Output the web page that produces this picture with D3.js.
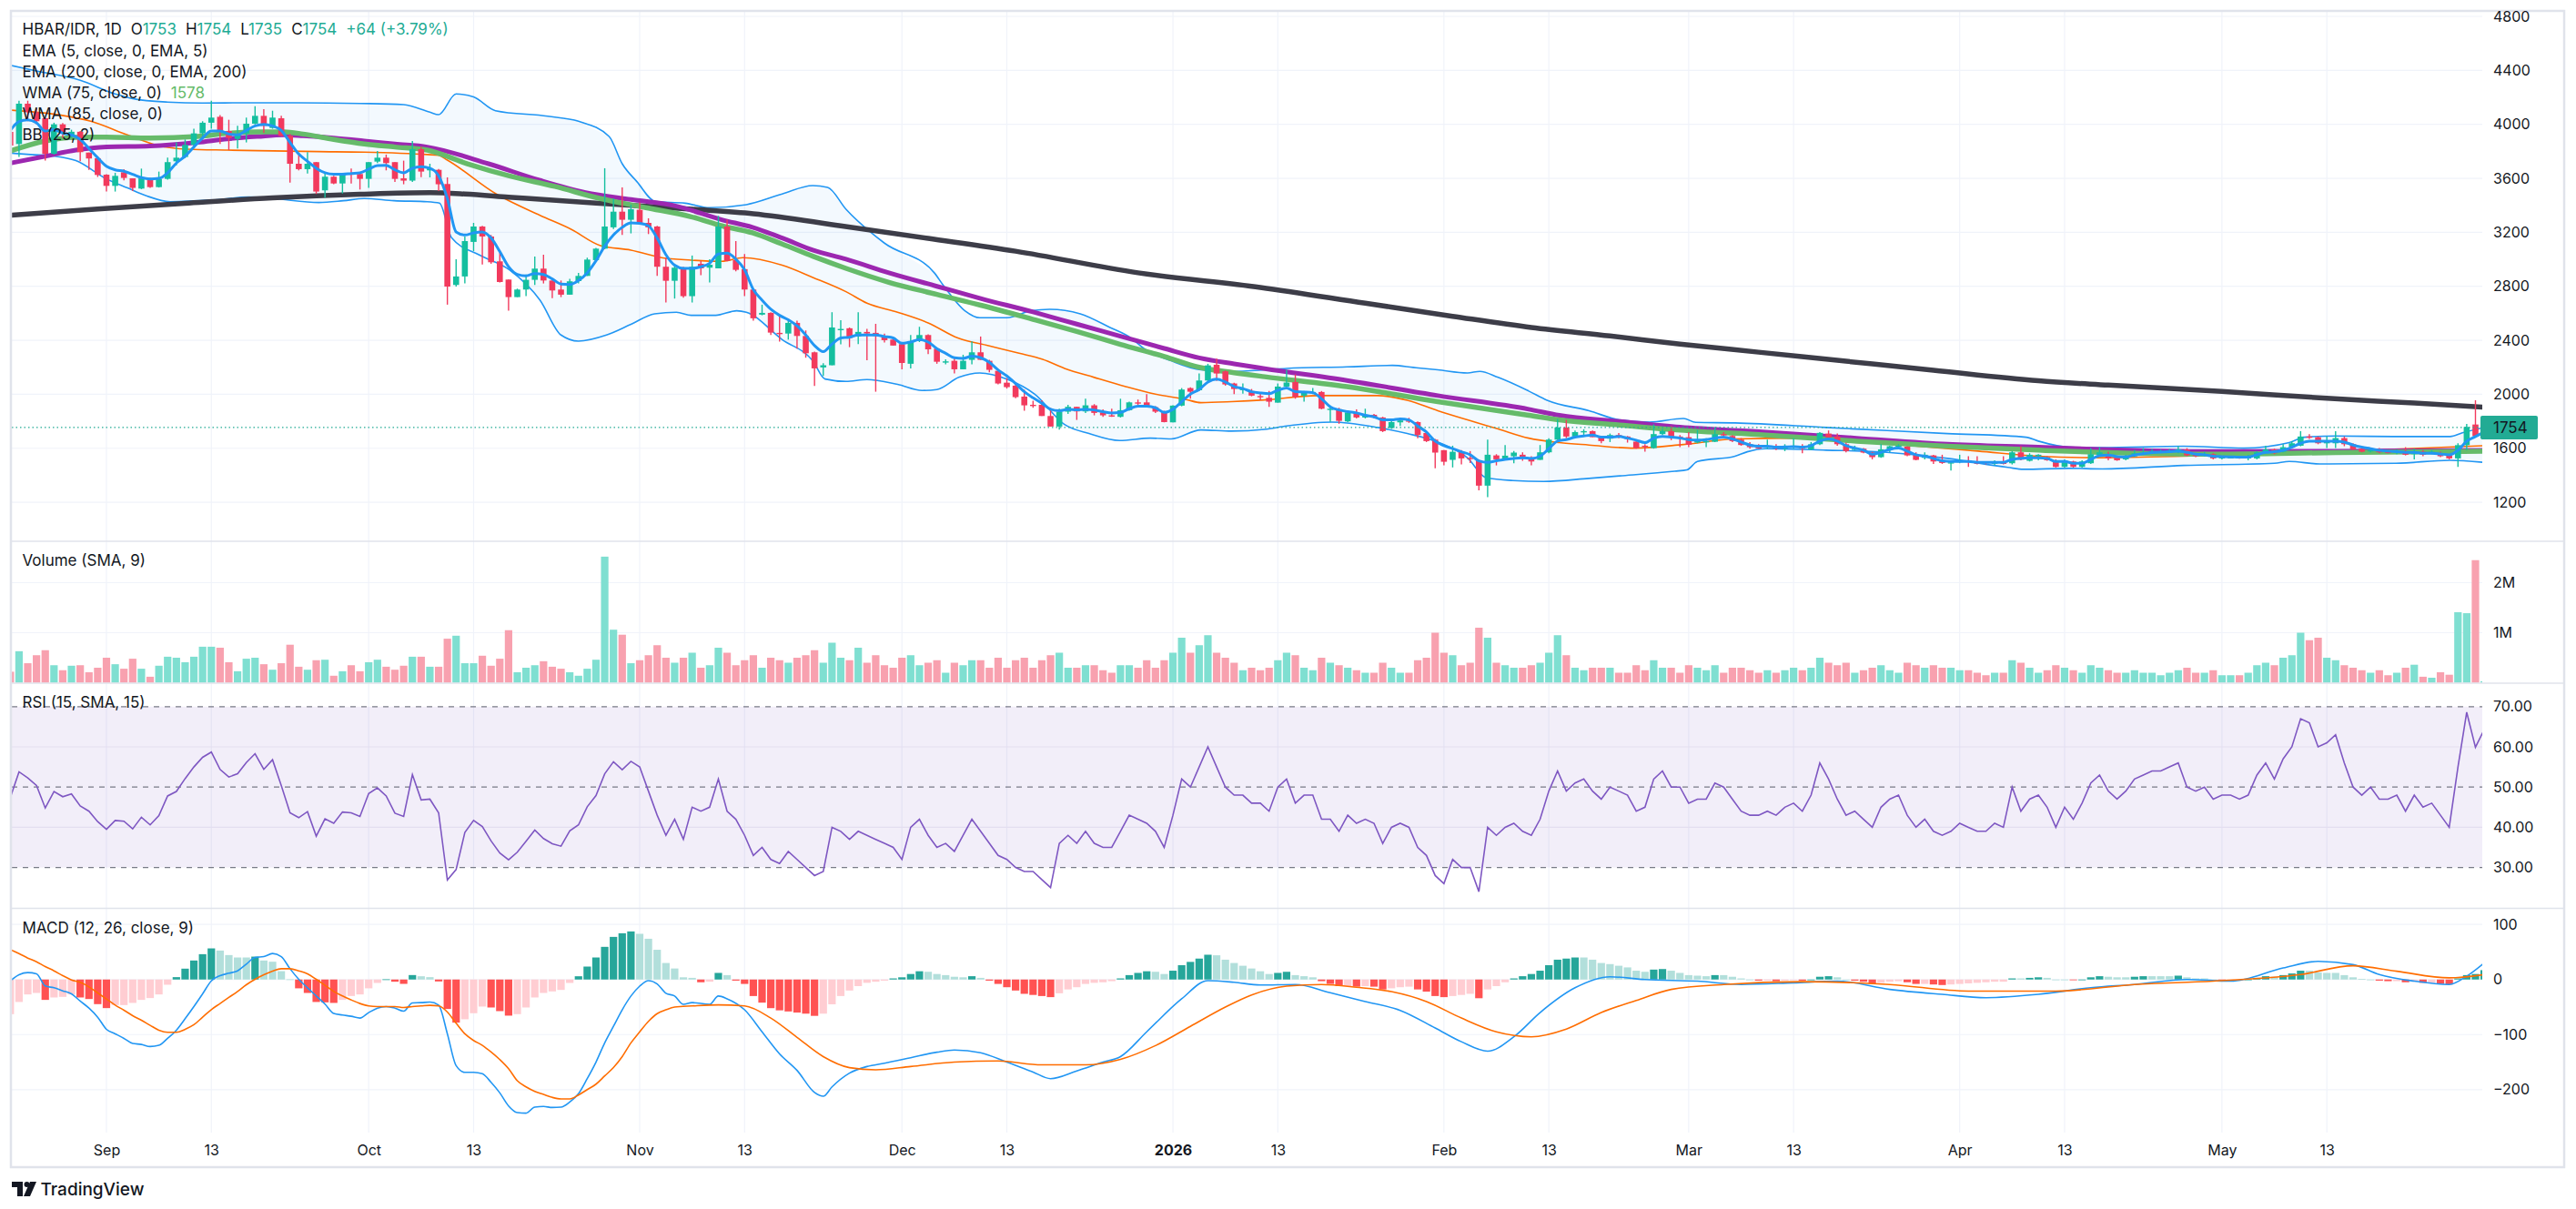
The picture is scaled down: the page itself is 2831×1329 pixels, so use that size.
<!DOCTYPE html>
<html><head><meta charset="utf-8">
<script src="https://cdn.jsdelivr.net/npm/d3@7"></script>
<style>
html,body{margin:0;padding:0;background:#fff;}
svg{display:block;font-family:Inter,"Noto Sans",sans-serif;}
</style></head><body>
<svg id="chart" width="2831" height="1329"></svg>
<script>
// ---------------- DATA ----------------
const startDate = "2025-08-21"; // first daily bar; last bar 2026-05-31
const open = [3944,3854,4153,4090,4045,3782,4000,3920,3945,3791,3749,3627,3544,3645,3600,3524,3600,3535,3596,3726,3758,3848,3933,4012,4056,3951,3892,3933,4005,4063,3973,4045,3915,3708,3668,3720,3511,3612,3562,3636,3632,3596,3724,3753,3720,3600,3583,3816,3659,3663,3558,2810,2873,3129,3243,3169,2985,2850,2720,2776,2848,2931,2843,2776,2738,2839,2877,2994,3079,3237,3353,3293,3367,3270,3243,2945,2841,2938,2727,2967,2938,2933,3243,2994,2927,2776,2590,2603,2455,2450,2529,2432,2311,2199,2215,2477,2489,2428,2462,2455,2432,2405,2372,2226,2394,2439,2338,2239,2248,2185,2255,2311,2248,2174,2086,2064,1983,1922,1922,1839,1761,1871,1907,1873,1918,1866,1844,1833,1882,1940,1940,1904,1871,1792,1916,2046,2030,2102,2219,2170,2080,2035,2024,1987,1974,1938,2057,2091,1990,2012,2017,1889,1889,1799,1862,1828,1848,1828,1750,1792,1806,1794,1713,1664,1586,1514,1574,1529,1511,1323,1547,1518,1541,1552,1529,1514,1570,1664,1754,1687,1720,1727,1682,1671,1698,1687,1649,1619,1601,1705,1727,1687,1682,1642,1648,1648,1705,1691,1664,1630,1608,1604,1608,1597,1608,1615,1592,1630,1709,1687,1630,1592,1597,1570,1534,1592,1615,1612,1552,1529,1547,1511,1489,1496,1511,1502,1498,1484,1502,1489,1570,1507,1547,1534,1511,1462,1502,1462,1489,1552,1556,1534,1518,1541,1563,1570,1574,1579,1574,1590,1556,1547,1556,1525,1532,1534,1525,1525,1570,1592,1574,1608,1619,1687,1682,1637,1637,1675,1630,1597,1579,1592,1574,1574,1579,1556,1574,1570,1563,1547,1525,1623,1776,1753];
const high = [3960,4175,4175,4120,4050,4012,4010,3960,3950,3791,3749,3630,3641,3668,3600,3672,3605,3650,3753,3866,3888,3967,4023,4175,4068,4034,3989,4050,4135,4113,4101,4063,3928,3776,3794,3720,3636,3618,3641,3672,3636,3720,3803,3776,3720,3731,3877,3832,3708,3670,3607,3001,3169,3270,3248,3180,3068,2850,2783,2888,3021,3034,2843,2843,2855,2900,3012,3084,3675,3450,3533,3405,3421,3304,3248,3012,2967,2945,3028,2989,3001,3322,3293,3135,3039,2783,2664,2608,2585,2551,2545,2473,2316,2230,2608,2549,2495,2608,2484,2522,2450,2417,2372,2439,2500,2444,2338,2259,2271,2293,2392,2428,2255,2181,2120,2080,2035,1952,1956,1900,1893,1922,1907,1967,1927,1889,1893,1967,1945,1961,2001,1911,1878,1918,2046,2051,2154,2226,2264,2176,2086,2080,2039,2012,2024,2080,2181,2147,2024,2046,2024,1916,1900,1878,1889,1893,1855,1833,1821,1821,1826,1799,1720,1669,1586,1619,1586,1579,1518,1664,1556,1624,1579,1570,1541,1624,1675,1815,1810,1732,1741,1732,1691,1709,1713,1691,1653,1631,1777,1743,1765,1698,1720,1736,1675,1754,1720,1698,1675,1646,1630,1664,1630,1630,1675,1630,1646,1720,1732,1709,1642,1619,1601,1574,1630,1619,1630,1615,1570,1570,1552,1552,1511,1552,1541,1541,1502,1511,1541,1579,1615,1563,1556,1541,1518,1518,1507,1511,1601,1608,1574,1547,1552,1586,1601,1595,1590,1595,1615,1601,1563,1574,1563,1541,1541,1541,1552,1579,1619,1597,1630,1653,1727,1705,1687,1687,1727,1687,1637,1608,1597,1601,1580,1592,1608,1597,1586,1586,1574,1556,1637,1781,1956,1754];
const low = [3830,3758,4023,4000,3731,3776,3900,3900,3726,3663,3610,3502,3502,3585,3506,3520,3530,3532,3590,3697,3750,3840,3888,3967,3854,3809,3821,3866,4000,3937,3967,3910,3569,3659,3636,3484,3457,3556,3488,3562,3517,3529,3713,3659,3574,3556,3574,3609,3607,3506,2664,2798,2821,3061,2962,2967,2828,2619,2720,2727,2810,2821,2713,2720,2738,2821,2877,2985,3075,3225,3180,3192,3270,3187,2877,2680,2709,2715,2680,2882,2828,2933,2985,2911,2727,2545,2585,2439,2390,2405,2338,2271,2062,2136,2215,2370,2349,2372,2253,2019,2383,2361,2185,2192,2387,2298,2226,2221,2154,2185,2221,2255,2163,2073,2042,1970,1878,1900,1839,1761,1738,1855,1810,1862,1844,1833,1833,1828,1878,1911,1907,1862,1792,1792,1911,1967,2024,2098,2098,2064,2001,2005,1985,1956,1907,1938,2057,1967,1945,2001,1889,1795,1781,1794,1821,1821,1821,1720,1743,1765,1788,1675,1646,1451,1473,1458,1480,1491,1289,1238,1473,1518,1489,1507,1473,1514,1563,1660,1675,1682,1687,1682,1637,1646,1675,1642,1597,1574,1597,1698,1660,1608,1608,1637,1608,1646,1675,1646,1619,1597,1597,1597,1586,1579,1597,1563,1586,1624,1669,1619,1570,1586,1563,1518,1529,1570,1601,1541,1511,1518,1484,1484,1435,1489,1462,1480,1480,1473,1480,1480,1511,1502,1511,1507,1457,1457,1457,1457,1484,1541,1511,1507,1511,1534,1552,1563,1565,1570,1563,1541,1534,1541,1518,1518,1525,1522,1511,1518,1563,1556,1570,1601,1615,1669,1630,1601,1601,1615,1586,1570,1570,1563,1562,1556,1547,1518,1541,1556,1534,1518,1462,1585,1682,1735];
const close = [3843,4153,4090,4023,3782,4000,3940,3945,3794,3747,3625,3544,3618,3603,3529,3600,3535,3596,3720,3753,3848,3933,4012,4050,3944,3899,3922,4005,4063,3989,4050,3915,3708,3668,3708,3502,3612,3562,3632,3627,3596,3720,3753,3713,3596,3583,3816,3650,3675,3556,2798,2873,3135,3243,3169,2978,2832,2720,2776,2848,2931,2843,2769,2738,2837,2877,2998,3079,3243,3353,3293,3371,3270,3237,2945,2841,2938,2727,2945,2933,2960,3243,2989,2922,2776,2563,2603,2457,2450,2529,2432,2304,2192,2215,2495,2484,2417,2462,2450,2432,2401,2361,2232,2394,2439,2333,2241,2244,2185,2248,2311,2255,2181,2080,2053,1979,1918,1918,1839,1761,1871,1907,1873,1918,1862,1844,1835,1882,1940,1934,1907,1871,1794,1916,2035,2019,2102,2214,2154,2073,2039,2040,1990,1983,1945,2057,2087,1979,2017,2017,1893,1893,1803,1866,1828,1848,1828,1727,1794,1806,1799,1698,1653,1568,1500,1574,1525,1523,1323,1552,1518,1545,1568,1523,1502,1570,1664,1754,1687,1720,1727,1682,1653,1698,1691,1669,1601,1615,1705,1727,1682,1682,1626,1653,1653,1705,1698,1653,1624,1608,1604,1615,1597,1615,1619,1597,1630,1714,1680,1630,1579,1597,1568,1534,1592,1615,1619,1547,1514,1552,1502,1491,1496,1511,1496,1484,1493,1502,1484,1570,1516,1552,1552,1511,1462,1511,1462,1502,1556,1570,1525,1511,1541,1563,1567,1579,1579,1583,1592,1547,1541,1556,1525,1534,1534,1529,1534,1570,1592,1563,1608,1637,1687,1682,1637,1646,1675,1630,1592,1574,1586,1570,1570,1579,1552,1574,1552,1574,1541,1525,1623,1758,1690,1754];
const volumeMillions = [.22,.63,.39,.55,.65,.35,.25,.34,.35,.21,.30,.50,.37,.28,.48,.28,.12,.34,.52,.50,.41,.52,.72,.72,.70,.41,.23,.48,.50,.37,.26,.39,.76,.32,.26,.45,.46,.14,.23,.35,.23,.41,.46,.32,.26,.34,.52,.52,.32,.32,.88,.94,.39,.39,.54,.34,.48,1.05,.21,.30,.35,.43,.32,.28,.21,.14,.28,.46,2.52,1.06,.96,.39,.45,.55,.75,.5,.4,.5,.6,.3,.35,.7,.6,.35,.45,.55,.3,.5,.45,.4,.5,.55,.65,.4,.8,.5,.45,.7,.4,.55,.35,.3,.5,.55,.35,.4,.45,.2,.4,.35,.45,.45,.3,.5,.3,.45,.5,.3,.45,.55,.6,.3,.3,.35,.35,.25,.2,.35,.35,.3,.45,.3,.45,.6,.9,.6,.75,.95,.6,.5,.4,.25,.3,.25,.3,.45,.6,.55,.3,.25,.5,.4,.35,.3,.25,.2,.2,.4,.3,.2,.2,.45,.5,1.0,.6,.55,.35,.4,1.1,.9,.4,.35,.3,.3,.35,.4,.6,.95,.55,.3,.25,.3,.3,.3,.2,.2,.35,.25,.45,.3,.3,.2,.35,.3,.25,.35,.2,.3,.3,.25,.2,.25,.2,.25,.3,.25,.3,.5,.4,.35,.4,.2,.25,.3,.35,.25,.2,.4,.35,.3,.35,.3,.3,.25,.25,.2,.15,.2,.2,.45,.4,.3,.2,.25,.35,.3,.25,.2,.35,.3,.25,.2,.2,.25,.2,.2,.15,.2,.25,.3,.2,.2,.25,.15,.15,.15,.2,.35,.4,.35,.5,.55,1.0,.85,.9,.5,.45,.35,.3,.25,.2,.25,.15,.2,.3,.36,.12,.10,.21,.16,1.41,1.39,2.45,.03];
const ema5 = [3955,4020,4034,4012,3950,3960,3935,3922,3888,3821,3753,3690,3663,3652,3630,3605,3596,3600,3641,3713,3764,3832,3899,3951,3951,3928,3922,3955,3989,4000,3989,3955,3866,3780,3726,3675,3641,3630,3630,3636,3641,3668,3695,3697,3663,3641,3675,3686,3675,3618,3450,3203,3180,3196,3203,3158,3057,2945,2888,2877,2895,2888,2855,2817,2814,2843,2900,2989,3097,3180,3237,3270,3266,3248,3158,3034,2956,2933,2933,2945,2971,3039,3046,3001,2922,2776,2697,2630,2585,2552,2507,2439,2361,2316,2372,2417,2423,2439,2439,2439,2428,2417,2378,2387,2405,2387,2338,2304,2271,2266,2282,2271,2237,2181,2136,2080,2019,1974,1934,1889,1878,1889,1884,1889,1884,1871,1862,1866,1893,1911,1911,1900,1866,1889,1945,2001,2035,2091,2113,2091,2057,2042,2019,2010,2005,2030,2046,2019,2017,2012,1967,1907,1884,1871,1862,1844,1833,1810,1810,1817,1810,1765,1720,1653,1619,1597,1574,1552,1507,1496,1507,1518,1525,1529,1525,1541,1597,1653,1664,1682,1691,1698,1682,1682,1687,1675,1660,1642,1675,1687,1682,1675,1664,1660,1664,1675,1682,1669,1646,1624,1615,1615,1608,1610,1612,1608,1619,1653,1669,1653,1619,1601,1586,1556,1570,1592,1601,1579,1552,1541,1525,1507,1502,1502,1502,1496,1496,1496,1496,1518,1525,1529,1529,1525,1502,1502,1489,1489,1518,1545,1550,1538,1536,1550,1560,1568,1572,1574,1578,1570,1556,1552,1541,1538,1536,1534,1534,1552,1570,1574,1585,1608,1637,1653,1653,1653,1653,1646,1624,1608,1597,1585,1579,1574,1570,1570,1563,1563,1558,1552,1585,1653,1687,1720];
// sampled smooth overlays: [day offset from start, value]
const ema200 = [[0,3326],[10,3372],[20,3415],[30,3455],[40,3482],[48,3494],[52,3484],[57,3461],[67,3416],[78,3371],[85,3338],[95,3248],[105,3155],[115,3060],[129,2900],[143,2792],[155,2675],[165,2578],[174,2495],[183,2432],[191,2372],[200,2312],[210,2245],[220,2178],[232,2100],[240,2068],[253,2022],[265,1970],[275,1935],[283,1905]];
const wma75 = [[0,3803],[4,3877],[7.5,3904],[11,3906],[16,3899],[21.4,3910],[24.8,3933],[28.3,3944],[31.3,3944],[33.5,3928],[37,3888],[40.5,3854],[44,3832],[47.7,3809],[52.3,3708],[57.1,3618],[62.3,3540],[67.5,3450],[72.7,3383],[77.9,3315],[81.4,3248],[84.9,3196],[88.3,3113],[91.8,3023],[95.6,2933],[100.5,2830],[106,2740],[111,2660],[117,2555],[122,2465],[127,2370],[132,2280],[136,2200],[140,2160],[143.5,2130],[152.9,2057],[163.3,1945],[173.7,1844],[177.2,1810],[184.1,1772],[191,1734],[200.8,1698],[211.2,1653],[221.6,1615],[232,1586],[239,1570],[252,1556],[266,1568],[283,1578]];
const wma85 = [[0,3713],[4,3764],[7.5,3809],[11,3832],[16,3839],[21.4,3866],[24.8,3892],[28.3,3910],[31.3,3922],[33.5,3915],[37,3899],[40.5,3877],[44,3854],[47.7,3832],[54.7,3708],[60.6,3585],[65.8,3495],[71,3443],[76.2,3394],[81.4,3293],[84.9,3237],[88.3,3158],[91.8,3068],[95.6,3001],[100.5,2900],[106,2800],[111,2710],[117,2610],[122,2520],[127,2430],[132,2340],[136,2270],[140,2225],[143.5,2190],[152.9,2102],[163.3,1990],[173.7,1889],[177.2,1844],[184.1,1799],[191,1756],[200.8,1720],[211.2,1675],[221.6,1630],[232,1608],[239,1592],[252,1576],[266,1578],[283,1585]];
const bbUpper = [[0,4438],[3,4395],[8,4326],[12,4225],[14,4191],[18,4165],[22,4158],[27,4160],[33,4160],[40,4155],[45,4146],[48,4090],[49,4072],[51,4225],[53,4203],[55.5,4101],[61.5,4060],[65,4023],[68.5,3910],[70,3708],[71.7,3574],[73.8,3428],[77.2,3416],[80,3383],[84.2,3405],[88.3,3484],[91.8,3546],[93.5,3533],[95.6,3371],[100,3120],[105.7,2900],[106.7,2810],[109.2,2619],[110.9,2567],[114,2567],[116.8,2619],[118.9,2630],[122.4,2596],[125.8,2495],[128.2,2417],[129.7,2338],[132.8,2248],[136.2,2181],[139.7,2170],[143.5,2181],[146,2192],[152.9,2203],[158.1,2214],[160.5,2199],[163.3,2181],[166.7,2158],[168.1,2170],[170.2,2125],[173.7,2024],[175.8,1956],[180.6,1878],[184.1,1810],[187.5,1794],[191.4,1821],[192.8,1792],[197.3,1788],[207.7,1754],[214.7,1731],[221.6,1709],[230.6,1682],[232,1653],[235.5,1608],[239.3,1604],[248.6,1615],[255.5,1601],[260.7,1642],[262.4,1682],[266,1691],[272.9,1687],[279.1,1687],[280.5,1714],[283,1755]];
const bbBasis = [[0,4106],[5.8,4068],[9.2,4023],[13.4,3922],[16.9,3843],[20.3,3816],[24.8,3809],[30.1,3803],[35.2,3798],[40.5,3794],[47.7,3776],[49,3770],[50,3735],[55.6,3484],[60.6,3326],[64.1,3225],[67.5,3102],[71,3068],[74.5,3012],[77.9,2994],[81.4,2985],[83.8,3012],[88.3,2956],[91.8,2866],[95.6,2760],[98,2675],[101.5,2608],[105,2529],[108.4,2417],[111.9,2360],[115.4,2304],[118.1,2259],[120.6,2192],[124,2125],[127.6,2057],[131,2001],[134.5,1961],[136.2,1938],[139.7,1945],[143.5,1958],[149.5,1990],[156.4,1990],[159.8,1956],[163.3,1878],[166.7,1810],[170.2,1743],[173.7,1675],[177.2,1642],[180.6,1624],[185.8,1601],[191.4,1628],[197.3,1669],[204.3,1675],[211.2,1660],[218.2,1615],[225.1,1579],[232,1541],[239,1530],[248.6,1541],[259,1563],[269.4,1585],[283,1619]];
const bbLower = [[0,3787],[2.3,3776],[5.1,3764],[7.5,3731],[11,3596],[13.4,3529],[15.5,3472],[18.3,3427],[23.1,3439],[27.3,3461],[30.1,3450],[35.3,3421],[38.1,3434],[40.5,3450],[43.9,3434],[47.7,3427],[49.1,3416],[50.5,3158],[53.6,3034],[57.1,2922],[60.6,2697],[63,2439],[65,2394],[68.2,2439],[71,2518],[73.7,2596],[76.2,2608],[77.9,2585],[80.7,2585],[83.1,2619],[84.2,2608],[88.3,2405],[91.8,2248],[93.2,2113],[95.6,2095],[98,2109],[101.5,2073],[104.3,2028],[106,2035],[108.5,2125],[110.9,2158],[114,2113],[117.2,2001],[120.6,1776],[123.4,1709],[126.9,1657],[130.4,1675],[132.8,1669],[136.2,1736],[139.7,1727],[143.5,1740],[146,1765],[151.2,1794],[156.4,1754],[159.8,1709],[163.3,1646],[166.7,1529],[168.8,1383],[171.9,1361],[175.4,1354],[180.6,1377],[184.1,1395],[190.4,1430],[191.8,1440],[193,1502],[197.3,1541],[198.7,1574],[200.8,1597],[207.7,1586],[214.7,1570],[221.6,1525],[228.5,1458],[230.3,1444],[235.5,1451],[239.3,1447],[248.6,1473],[259,1489],[260.7,1502],[264.2,1484],[272.9,1489],[279.1,1511],[283,1495]];
const rsi = [47.4,53.8,52.3,50.4,44.8,48.9,47.6,48.3,45.3,44.0,41.4,39.5,41.7,41.5,39.6,42.5,40.6,42.9,47.8,48.9,52.1,55.0,57.4,58.7,54.4,52.5,53.3,56.1,58.3,54.4,56.8,50.4,43.6,42.4,43.9,37.8,42.1,41.0,43.8,43.6,42.7,48.4,49.8,47.8,43.5,42.7,53.1,46.8,47.0,43.6,26.9,29.5,38.7,41.7,40.2,36.6,33.6,31.9,33.8,36.5,39.3,37.2,35.9,35.3,39.1,40.6,45.1,47.9,53.3,56.3,54.3,56.4,55,49,43,38,42,37,45,44,45,52,44,42,38,33,35,32,31,34,32,30,28,29,40,39,37,39,38,37,36,35,32,40,42,38,35,36,34,38,42,39,36,33,32,30,29,29,27,25,36,38,36,39,36,35,35,39,43,42,41,39,35,43,52,50,55,60,55,50,48,48,46,46,44,50,52,46,48,48,42,42,39,43,41,42,41,36,40,41,40,35,33,28,26,32,30,30,24,40,38,40,41,39,38,42,49,54,49,51,52,49,47,50,49,48,44,45,52,54,50,50,46,47,47,51,50,47,44,43,43,44,43,45,46,44,48,56,52,47,43,44,42,40,45,47,48,43,40,42,39,38,39,41,40,39,39,41,40,50,44,47,48,45,40,45,42,46,51,53,49,47,49,52,53,54,54,55,56,50,49,50,47,48,48,47,48,53,56,52,57,60,67,66,60,61,63,56,50,48,50,47,47,48,44,48,45,46,43,40,55,68.6,59.9,64.3];
const macdLine = [[0,-2.4],[1,8.6],[2,12.5],[3,10.3],[4,-11.7],[5,-15],[6,-20.5],[7,-26],[8,-39.2],[9,-51.9],[10,-68.4],[11,-90.4],[12,-98.6],[13,-106.9],[14,-116.2],[15,-117.9],[16,-121.7],[17,-119.5],[18,-106.9],[19,-92],[20,-71.1],[21,-49.1],[22,-26],[23,-2.4],[24,7],[25,11.4],[26,15.8],[27,27.9],[28,40],[29,41.6],[30,47.2],[31,41.6],[32,19.6],[33,0.4],[34,-15],[35,-29.9],[36,-44.7],[37,-61.7],[38,-64.5],[39,-66.7],[40,-70],[41,-60.1],[42,-51.9],[43,-49.1],[44,-51.9],[45,-57.4],[46,-42.5],[47,-42],[48,-40.9],[49,-46.4],[50,-98.6],[51,-156.4],[52,-168.5],[53,-168.5],[54,-171.2],[55,-186.6],[56,-205.9],[57,-229.5],[58,-241.6],[59,-242.7],[60,-231.7],[61,-230.6],[62,-232.3],[63,-231.7],[64,-222.4],[65,-207.5],[66,-180],[67,-150],[68,-115],[69,-85],[70,-55],[71,-30],[72,-12],[73,-2],[74,-8],[75,-25],[76,-30],[77,-45],[78,-42],[80,-45],[81,-30],[82,-35],[84,-55],[86,-95],[88,-135],[90,-165],[92,-205],[93,-212],[94,-195],[96,-170],[98,-158],[100,-152],[103,-142],[106,-132],[108,-128],[111,-133],[114,-150],[117,-168],[119,-180],[122,-166],[125,-150],[127,-140],[130,-95],[134,-35],[137,-2],[140,-5],[143,-10],[147,-9],[151,-24],[155,-40],[159,-56],[163,-88],[166,-113],[169,-130],[172,-104],[175,-60],[179,-15],[183,5],[187,0],[193,-3],[198,-9],[204,-6],[209,-3],[215,-18],[221,-27],[226,-33],[232,-27],[238,-15],[243,-9],[249,0],[254,-3],[260,21],[264,33],[268,27],[271,9],[275,-3],[279,-9],[281,6],[283,30]];
const signalLine = [[0,54.3],[1,47.2],[2,38.9],[3,32.3],[4,23.5],[5,15.8],[6,7],[7,-0.7],[8,-5.1],[9,-13.4],[10,-24.4],[11,-35.4],[12,-46.4],[13,-55.7],[14,-65.6],[15,-73.9],[16,-83.2],[17,-92],[18,-95.9],[19,-95.9],[20,-90.4],[21,-82.1],[22,-68.4],[23,-54.6],[24,-43.6],[25,-32.6],[26,-21.6],[27,-9.5],[28,0.4],[29,8.6],[30,15.3],[31,19.6],[32,19.6],[33,15.8],[34,10.3],[35,0.4],[36,-10.6],[37,-21.6],[38,-29.9],[39,-37],[40,-43.6],[41,-48],[42,-49.1],[43,-49.1],[44,-49.1],[45,-50.8],[46,-49.1],[47,-48],[48,-46.9],[49,-48],[50,-59],[51,-79.4],[52,-98.6],[53,-110.7],[54,-119.5],[55,-131.6],[56,-145.4],[57,-161.9],[58,-183.9],[59,-194.9],[60,-203.1],[61,-208.6],[62,-214.1],[63,-216.9],[64,-216.9],[65,-209.7],[66,-200],[67,-190],[68,-175],[69,-160],[70,-140],[71,-115],[72,-95],[73,-76],[74,-62],[75,-55],[76,-50],[78,-48],[81,-46],[84,-48],[87,-70],[90,-105],[93,-140],[96,-160],[99,-164],[103,-158],[108,-150],[113,-148],[118,-155],[123,-155],[127,-145],[131,-120],[135,-85],[139,-50],[142,-28],[146,-12],[150,-9],[154,-14],[158,-22],[162,-40],[166,-70],[170,-95],[174,-104],[178,-90],[182,-60],[186,-38],[190,-18],[196,-9],[205,-4],[215,-9],[224,-21],[234,-21],[243,-9],[252,-3],[262,9],[268,25],[273,15],[279,3],[283,9]];
const macdHist = [-62.9,-40.8,-27.1,-24.4,-37,-32.6,-31.5,-27.1,-32.6,-35.4,-44.7,-51.9,-46.4,-46.4,-42.5,-37,-33.7,-27.1,-9.5,4.3,19.7,34.5,46,56.5,52.6,44.4,40,40,41.6,34.5,32.3,15.2,0.4,-16,-24.4,-40.8,-41.5,-42.5,-37,-29.9,-27.1,-16,-6.2,0.4,-4,-7.9,8.1,5.9,4.3,-3.5,-53.5,-78.3,-72.2,-61.2,-49.1,-50.8,-57.4,-65.6,-62.9,-50.8,-32.6,-24.4,-21.6,-18.9,-6.2,5.9,23.5,40,59.3,77.4,84,87.3,
 83,74,54,30,20,4,3,-5,-4,12,8,-2,-8,-30,-42,-52,-56,-58,-60,-62,-66,-62,-45,-30,-20,-12,-6,-4,-2,2,4,10,15,14,10,8,5,4,6,3,-2,-8,-14,-20,-26,-28,-30,-32,-25,-18,-14,-8,-6,-5,-3,2,8,12,15,14,10,16,26,32,38,45,44,36,30,25,20,15,10,12,14,8,6,4,-3,-8,-12,-12,-13,-12,-13,-18,-16,-14,-13,-18,-22,-30,-32,-30,-28,-26,-34,-18,-12,-5,2,6,10,16,26,36,38,40,40,36,30,28,25,22,16,14,18,19,16,12,8,7,6,8,8,5,2,0,-2,-2,-3,-2,-1,-2,0,5,6,4,0,-2,-4,-8,-6,-4,-3,-5,-8,-8,-9,-10,-9,-8,-7,-6,-5,-4,-4,2,2,3,4,3,0,0,-1,0,4,6,5,4,4,5,6,6,6,6,7,4,2,2,0,-1,-1,-1,0,3,6,5,8,11,16,16,13,12,12,8,4,1,0,-2,-3,-3,-5,-4,-6,-6,-8,-9,2,8,10,17];
const priceTicks = [1200,1600,2000,2400,2800,3200,3600,4000,4400,4800];
const volumeTicks = [1e6,2e6];
const rsiTicks = [30,40,50,60,70];
const macdTicks = [-200,-100,0,100];
const timeTickDates = ["2025-09-01","2025-09-13","2025-10-01","2025-10-13","2025-11-01","2025-11-13","2025-12-01","2025-12-13","2026-01-01","2026-01-13","2026-02-01","2026-02-13","2026-03-01","2026-03-13","2026-04-01","2026-04-13","2026-05-01","2026-05-13"];
const timeTickLabels = ["Sep","13","Oct","13","Nov","13","Dec","13","2026","13","Feb","13","Mar","13","Apr","13","May","13"];
const lastBar = {o:1753,h:1754,l:1735,c:1754,chg:"+64 (+3.79%)",wma75:"1578"};

// ---------------- CHECK ----------------
const N = open.length;
[high,low,close,volumeMillions,ema5,rsi,macdHist].forEach((a,k)=>{ if(a.length!==N) throw new Error("length mismatch "+k+": "+a.length+" vs "+N); });

// ---------------- LAYOUT ----------------
const C = {up:"#14bf9f", down:"#f23a5d", volUp:"#7fdfd1", volDown:"#f8a1af", text:"#131722",
  grid:"#f0f3fa", sep:"#e0e3eb", teal:"#22ab94"};
const PL=13, PR=2728, AXR=2817, TOP=13, BOT=1282, TAX=1245;
const MAIN=[TOP,595], VOL=[595,751], RSI=[751,998.5], MACD=[998.5,TAX];
const svg = d3.select("#chart");
const DAY=86400000, T0=Date.parse(startDate+"T00:00:00Z");
const dateOf = i => new Date(T0 + i*DAY);
const x = d3.scaleUtc().domain([dateOf(0), dateOf(N-1)]).range([11.3, 2730.1]);
const xi = i => x(dateOf(i));
const yP = d3.scaleLinear().domain([1200,4800]).range([552.1,18]);
const yV = d3.scaleLinear().domain([0,2e6]).range([750.5,640.5]);
const yR = d3.scaleLinear().domain([30,70]).range([953.6,776.8]);
const yM = d3.scaleLinear().domain([-200,100]).range([1197.8,1016.2]);

svg.append("rect").attr("width",2831).attr("height",1329).attr("fill","#fff");
const defs = svg.append("defs");
function clip(id, y0, y1){ defs.append("clipPath").attr("id",id).append("rect").attr("x",PL).attr("y",y0).attr("width",PR-PL).attr("height",y1-y0); return "url(#"+id+")"; }
const cMain=clip("cm",MAIN[0],MAIN[1]), cVol=clip("cv",VOL[0],VOL[1]), cRsi=clip("cr",RSI[0],RSI[1]), cMacd=clip("cmd",MACD[0],MACD[1]);

// grid
const tDates = timeTickDates.map(s=>new Date(s+"T00:00:00Z"));
const grid = svg.append("g").attr("stroke",C.grid).attr("stroke-width",1.2);
grid.selectAll(".vg").data(tDates).join("line").attr("x1",d=>x(d)).attr("x2",d=>x(d)).attr("y1",TOP).attr("y2",TAX);
grid.selectAll(".pg").data(priceTicks).join("line").attr("x1",PL).attr("x2",PR).attr("y1",d=>yP(d)).attr("y2",d=>yP(d));
grid.selectAll(".vvg").data(volumeTicks).join("line").attr("x1",PL).attr("x2",PR).attr("y1",d=>yV(d)).attr("y2",d=>yV(d));
grid.selectAll(".mg").data(macdTicks).join("line").attr("x1",PL).attr("x2",PR).attr("y1",d=>yM(d)).attr("y2",d=>yM(d));

// RSI background band and levels
const gR = svg.append("g").attr("clip-path",cRsi);
gR.append("rect").attr("x",PL).attr("width",PR-PL).attr("y",yR(70)).attr("height",yR(30)-yR(70)).attr("fill","rgba(126,87,194,0.1)");
gR.selectAll(".rg").data([60,40]).join("line").attr("x1",PL).attr("x2",PR).attr("y1",d=>yR(d)).attr("y2",d=>yR(d)).attr("stroke","#e3def0").attr("stroke-width",1.2);
gR.selectAll(".rl").data([70,50,30]).join("line").attr("x1",PL).attr("x2",PR).attr("y1",d=>yR(d)).attr("y2",d=>yR(d)).attr("stroke","#787b86").attr("stroke-width",1.2).attr("stroke-dasharray","6 6");

// ---- main pane ----
const gM = svg.append("g").attr("clip-path",cMain);
const smooth = (y)=>d3.line().x(d=>xi(d[0])).y(d=>y(d[1])).curve(d3.curveMonotoneX);
const lin = (y)=>d3.line().x(d=>xi(d[0])).y(d=>y(d[1]));
const bandPath = lin(yP)(bbUpper) + "L" + lin(yP)(bbLower.slice().reverse()).slice(1) + "Z";
gM.append("path").attr("d",bandPath).attr("fill","rgba(33,150,243,0.055)");
gM.append("path").attr("d",smooth(yP)(bbUpper)).attr("fill","none").attr("stroke","#2196f3").attr("stroke-width",1.6);
gM.append("path").attr("d",smooth(yP)(bbLower)).attr("fill","none").attr("stroke","#2196f3").attr("stroke-width",1.6);
gM.append("path").attr("d",smooth(yP)(bbBasis)).attr("fill","none").attr("stroke","#ff6d00").attr("stroke-width",1.6);
gM.append("path").attr("d",smooth(yP)(ema200)).attr("fill","none").attr("stroke","#3d3d48").attr("stroke-width",5.5);
gM.append("path").attr("d",smooth(yP)(wma85)).attr("fill","none").attr("stroke","#9c27b0").attr("stroke-width",5);
gM.append("path").attr("d",smooth(yP)(wma75)).attr("fill","none").attr("stroke","#66bb6a").attr("stroke-width",5.5);

const bars = d3.range(N).map(i=>({i,o:open[i],h:high[i],l:low[i],c:close[i],v:volumeMillions[i]*1e6}));
const cg = gM.append("g");
cg.selectAll(".wick").data(bars).join("line").attr("x1",d=>xi(d.i)).attr("x2",d=>xi(d.i)).attr("y1",d=>yP(d.h)).attr("y2",d=>yP(d.l))
  .attr("stroke",d=>d.c>=d.o?C.up:C.down).attr("stroke-width",1.4);
cg.selectAll(".body").data(bars).join("rect").attr("x",d=>xi(d.i)-3.3).attr("width",6.6)
  .attr("y",d=>yP(Math.max(d.o,d.c))).attr("height",d=>Math.max(1.4,Math.abs(yP(d.o)-yP(d.c))))
  .attr("fill",d=>d.c>=d.o?C.up:C.down);
gM.append("path").attr("d",smooth(yP)(ema5.map((v,i)=>[i,v]))).attr("fill","none").attr("stroke","#2196f3").attr("stroke-width",3);
// last price line
gM.append("line").attr("x1",PL).attr("x2",PR).attr("y1",yP(lastBar.c)).attr("y2",yP(lastBar.c)).attr("stroke",C.teal).attr("stroke-width",1.2).attr("stroke-dasharray","1.5 3");

// ---- volume ----
const gV = svg.append("g").attr("clip-path",cVol);
gV.selectAll("rect").data(bars).join("rect").attr("x",d=>xi(d.i)-4.1).attr("width",8.2)
  .attr("y",d=>yV(d.v)).attr("height",d=>yV(0)-yV(d.v)).attr("fill",d=>d.c>=d.o?C.volUp:C.volDown);

// ---- RSI line ----
gR.append("path").attr("d",lin(yR)(rsi.map((v,i)=>[i,v]))).attr("fill","none").attr("stroke","#7e57c2").attr("stroke-width",1.6);

// ---- MACD ----
const gD = svg.append("g").attr("clip-path",cMacd);
gD.selectAll("rect").data(macdHist.map((h,i)=>({i,h,p:i>0?macdHist[i-1]:h}))).join("rect")
  .attr("x",d=>xi(d.i)-4.1).attr("width",8.2)
  .attr("y",d=>yM(Math.max(0,d.h))).attr("height",d=>Math.max(0.8,Math.abs(yM(d.h)-yM(0))))
  .attr("fill",d=> d.h>=0 ? (d.h>d.p?"#26a69a":"#b2dfdb") : (d.h<d.p?"#ff5252":"#ffcdd2"));
gD.append("path").attr("d",smooth(yM)(macdLine)).attr("fill","none").attr("stroke","#2196f3").attr("stroke-width",1.6);
gD.append("path").attr("d",smooth(yM)(signalLine)).attr("fill","none").attr("stroke","#ff6d00").attr("stroke-width",1.6);

// ---- frame ----
const fr = svg.append("g").attr("stroke",C.sep).attr("stroke-width",1.5);
[MAIN[1],VOL[1],RSI[1]].forEach(y=>fr.append("line").attr("x1",PL).attr("x2",AXR).attr("y1",y).attr("y2",y));
svg.append("rect").attr("x",PL-1).attr("y",TOP-1).attr("width",AXR-PL+2).attr("height",BOT-TOP+2).attr("fill","none").attr("stroke",C.sep).attr("stroke-width",2.5);

// ---- axes ----
function styleAxis(g){ g.select(".domain").remove(); g.selectAll("text").attr("fill",C.text).style("font-size","16px").style("font-family","Inter, 'Noto Sans', sans-serif"); }
svg.append("g").attr("transform",`translate(${PR},0)`).call(d3.axisRight(yP).tickValues(priceTicks).tickSize(0).tickPadding(12).tickFormat(d3.format("d"))).call(styleAxis);
svg.append("g").attr("transform",`translate(${PR},0)`).call(d3.axisRight(yV).tickValues(volumeTicks).tickSize(0).tickPadding(12).tickFormat(d=>(d/1e6)+"M")).call(styleAxis);
svg.append("g").attr("transform",`translate(${PR},0)`).call(d3.axisRight(yR).tickValues(rsiTicks).tickSize(0).tickPadding(12).tickFormat(d3.format(".2f"))).call(styleAxis);
svg.append("g").attr("transform",`translate(${PR},0)`).call(d3.axisRight(yM).tickValues(macdTicks).tickSize(0).tickPadding(12).tickFormat(d3.format("d"))).call(styleAxis);
const xa = svg.append("g").attr("transform",`translate(0,${TAX})`).call(d3.axisBottom(x).tickValues(tDates).tickSize(0).tickPadding(14).tickFormat((d,k)=>timeTickLabels[k])).call(styleAxis);
xa.selectAll("text").filter((d,k)=>timeTickLabels[k]==="2026").style("font-weight","700");

// last price label
const ly = yP(lastBar.c);
svg.append("rect").attr("x",PR-2).attr("y",ly-13).attr("width",63).attr("height",26).attr("rx",2).attr("fill",C.teal);
svg.append("text").attr("x",PR+12).attr("y",ly).attr("dy","0.35em").attr("fill",C.text).style("font-size","17px").text(lastBar.c);

// ---- legends ----
const leg = svg.append("g").style("font-size","17px").attr("fill",C.text);
const l1 = leg.append("text").attr("x",24.5).attr("y",32).attr("dy","0.35em");
l1.append("tspan").text("HBAR/IDR, 1D");
[["O",lastBar.o],["H",lastBar.h],["L",lastBar.l],["C",lastBar.c]].forEach(([k,v])=>{
  l1.append("tspan").attr("dx",10).text(k);
  l1.append("tspan").attr("fill",C.teal).text(v);
});
l1.append("tspan").attr("dx",10).attr("fill",C.teal).text(lastBar.chg);
const legendLines = ["EMA (5, close, 0, EMA, 5)","EMA (200, close, 0, EMA, 200)","WMA (75, close, 0)","WMA (85, close, 0)","BB (25, 2)"];
legendLines.forEach((t,k)=>{
  const tx = leg.append("text").attr("x",24.5).attr("y",56.3+k*23).attr("dy","0.35em").text(t);
  if(k===2) tx.append("tspan").attr("dx",10).attr("fill","#66bb6a").text(lastBar.wma75);
});
leg.append("text").attr("x",24.5).attr("y",616).attr("dy","0.35em").text("Volume (SMA, 9)");
leg.append("text").attr("x",24.5).attr("y",772.5).attr("dy","0.35em").text("RSI (15, SMA, 15)");
leg.append("text").attr("x",24.5).attr("y",1020).attr("dy","0.35em").text("MACD (12, 26, close, 9)");

// ---- TradingView logo ----
const lg = svg.append("g").attr("fill",C.text);
lg.append("path").attr("d","M13 1299 h12 v16 h-6 v-10 h-6 z");
lg.append("circle").attr("cx",29.5).attr("cy",1302).attr("r",3);
lg.append("path").attr("d","M33 1299 h7 l-7 16 h-7 z");
lg.append("text").attr("x",44.5).attr("y",1307).attr("dy","0.35em").style("font-size","19px").style("font-weight","500").text("TradingView");
</script>
</body></html>
